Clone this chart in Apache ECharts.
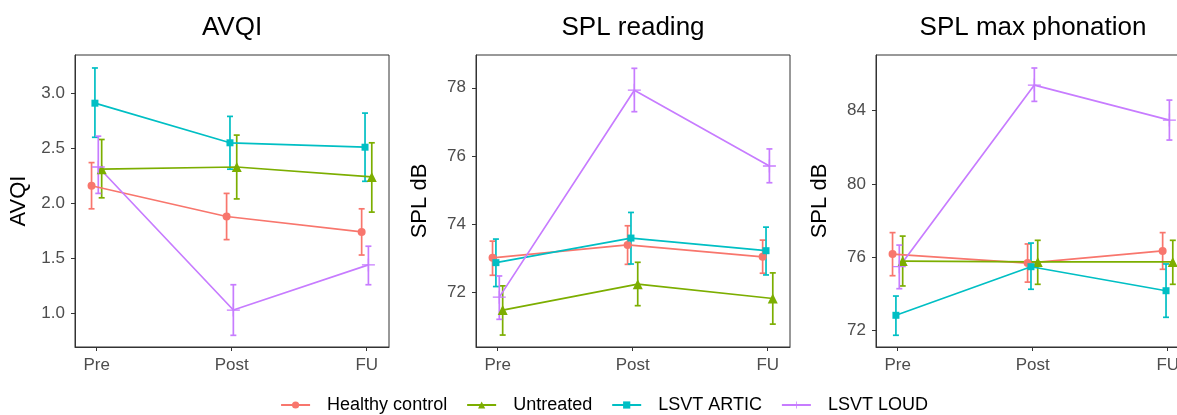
<!DOCTYPE html>
<html>
<head>
<meta charset="utf-8">
<style>
  html, body { margin: 0; padding: 0; overflow: hidden; background: #fff; }
  #main { width: 1208px; height: 415px; }
</style>
<script src="https://cdn.jsdelivr.net/npm/echarts@6/dist/echarts.min.js"></script>
</head>
<body>
<div id="main"></div>
<script>
// categories
const phases = ['Pre', 'Post', 'FU'];
const groups = ['Healthy control', 'Untreated', 'LSVT ARTIC', 'LSVT LOUD'];
const panelTitles = ['AVQI', 'SPL reading', 'SPL max phonation'];
const axisTitles = ['AVQI', 'SPL dB', 'SPL dB'];

// tick labels per panel
const avqiTicks = [1.0, 1.5, 2.0, 2.5, 3.0];
const splReadTicks = [72, 74, 76, 78];
const splMaxTicks = [72, 76, 80, 84];

// AVQI: rows = groups (Healthy, Untreated, ARTIC, LOUD), cols = Pre, Post, FU
const avqiMean = [
    [2.16, 1.88, 1.74],
    [2.31, 2.33, 2.24],
    [2.91, 2.55, 2.51],
    [2.33, 1.03, 1.44]
];
const avqiLow = [
    [1.95, 1.67, 1.53],
    [2.05, 2.04, 1.92],
    [2.60, 2.31, 2.20],
    [2.09, 0.80, 1.26]
];
const avqiHigh = [
    [2.37, 2.09, 1.95],
    [2.58, 2.62, 2.55],
    [3.23, 2.79, 2.82],
    [2.61, 1.26, 1.61]
];

// SPL reading (dB)
const splReadMean = [
    [73.02, 73.40, 73.05],
    [71.49, 72.25, 71.83],
    [72.88, 73.60, 73.23],
    [71.87, 77.93, 75.71]
];
const splReadLow = [
    [72.51, 72.83, 72.57],
    [70.76, 71.62, 71.08],
    [72.18, 72.84, 72.52],
    [71.22, 77.30, 75.22]
];
const splReadHigh = [
    [73.51, 73.96, 73.54],
    [72.20, 72.89, 72.58],
    [73.57, 74.35, 73.92],
    [72.49, 78.57, 76.21]
];

// SPL max phonation (dB)
const splMaxMean = [
    [76.18, 75.69, 76.35],
    [75.80, 75.75, 75.75],
    [72.84, 75.49, 74.18],
    [75.49, 85.40, 83.49]
];
const splMaxLow = [
    [75.00, 74.65, 75.35],
    [74.44, 74.53, 74.53],
    [71.75, 74.26, 72.73],
    [74.29, 84.51, 82.40]
];
const splMaxHigh = [
    [77.35, 76.73, 77.35],
    [77.16, 76.93, 76.93],
    [73.89, 76.78, 75.64],
    [76.67, 86.33, 84.58]
];

const colors = ['#F8766D', '#7CAE00', '#00BFC4', '#C77CFF'];
// position_dodge order in the picture: Healthy, ARTIC, LOUD, Untreated
const dodge = [-0.0375, 0.0375, -0.0125, 0.0125];
const plusPath = 'path://M0,6.3 H14 V7.7 H0 Z M6.3,0 H7.7 V14 H6.3 Z';
const symbols = ['circle', 'triangle', 'rect', plusPath];
const symbolSizes = [8, 10, 7, 13];

const panels = [
    { mean: avqiMean, low: avqiLow, high: avqiHigh, ticks: avqiTicks, min: 0.694, max: 3.348, digits: 1 },
    { mean: splReadMean, low: splReadLow, high: splReadHigh, ticks: splReadTicks, min: 70.41, max: 78.96, digits: 0 },
    { mean: splMaxMean, low: splMaxLow, high: splMaxHigh, ticks: splMaxTicks, min: 71.11, max: 87.04, digits: 0 }
];
const gridLefts = [75, 476, 876];

const font = 'Liberation Sans, Arial, Helvetica, sans-serif';

let grids = [], xAxes = [], yAxes = [], lineSeries = [], barSeries = [], titles = [];

panels.forEach((p, pi) => {
    grids.push({
        left: gridLefts[pi], top: 55, width: 314, height: 292,
        show: true, borderColor: '#333', borderWidth: 1, containLabel: false
    });
    xAxes.push({
        type: 'value', gridIndex: pi, min: 0.84, max: 3.165,
        splitLine: { show: false },
        axisLine: { show: true, lineStyle: { color: '#333', width: 1 } },
        axisTick: { show: true, length: 4, customValues: [1, 2, 3], lineStyle: { color: '#333' } },
        axisLabel: {
            customValues: [1, 2, 3], margin: 10, color: '#4D4D4D', fontSize: 17, fontFamily: font,
            formatter: v => phases[Math.round(v) - 1]
        }
    });
    yAxes.push({
        type: 'value', gridIndex: pi, min: p.min, max: p.max,
        name: axisTitles[pi], nameLocation: 'middle', nameGap: 45,
        nameTextStyle: { color: '#000', fontSize: 22, fontFamily: font },
        splitLine: { show: false },
        axisLine: { show: true, lineStyle: { color: '#333', width: 1 } },
        axisTick: { show: true, length: 4, customValues: p.ticks, lineStyle: { color: '#333' } },
        axisLabel: {
            customValues: p.ticks, margin: 10, color: '#4D4D4D', fontSize: 17, fontFamily: font,
            formatter: v => v.toFixed(p.digits)
        }
    });
    titles.push({
        type: 'text', x: gridLefts[pi] + 157, y: 28,
        style: { text: panelTitles[pi], font: '26px ' + font, fill: '#000', textAlign: 'center', textVerticalAlign: 'middle' }
    });

    groups.forEach((g, gi) => {
        lineSeries.push({
            name: g, type: 'line', xAxisIndex: pi, yAxisIndex: pi,
            data: phases.map((_, i) => [i + 1 + dodge[gi], p.mean[gi][i]]),
            symbol: symbols[gi], symbolSize: symbolSizes[gi],
            itemStyle: { color: colors[gi] },
            lineStyle: { color: colors[gi], width: 1.7 },
            z: 3, animation: false
        });
        barSeries.push({
            name: g, type: 'custom', xAxisIndex: pi, yAxisIndex: pi,
            data: phases.map((_, i) => [i + 1 + dodge[gi], p.low[gi][i], p.high[gi][i]]),
            encode: { x: 0, y: [1, 2] },
            z: 2, animation: false, silent: true,
            renderItem: (params, api) => {
                const x = api.value(0);
                const top = api.coord([x, api.value(2)]);
                const bot = api.coord([x, api.value(1)]);
                const hw = 3;
                const st = { stroke: colors[gi], lineWidth: 1.7 };
                return {
                    type: 'group', children: [
                        { type: 'line', shape: { x1: top[0], y1: top[1], x2: bot[0], y2: bot[1] }, style: st },
                        { type: 'line', shape: { x1: top[0] - hw, y1: top[1], x2: top[0] + hw, y2: top[1] }, style: st },
                        { type: 'line', shape: { x1: bot[0] - hw, y1: bot[1], x2: bot[0] + hw, y2: bot[1] }, style: st }
                    ]
                };
            }
        });
    });
});

const chart = echarts.init(document.getElementById('main'));
chart.setOption({
    backgroundColor: '#fff',
    animation: false,
    textStyle: { fontFamily: font },
    graphic: titles,
    legend: {
        data: groups, left: 'center', top: 391,
        itemWidth: 29, itemHeight: 9, itemGap: 19,
        textStyle: { color: '#000', fontSize: 18, fontFamily: font, padding: [0, 0, 0, 12] }
    },
    grid: grids,
    xAxis: xAxes,
    yAxis: yAxes,
    series: lineSeries.concat(barSeries)
});
</script>
</body>
</html>
